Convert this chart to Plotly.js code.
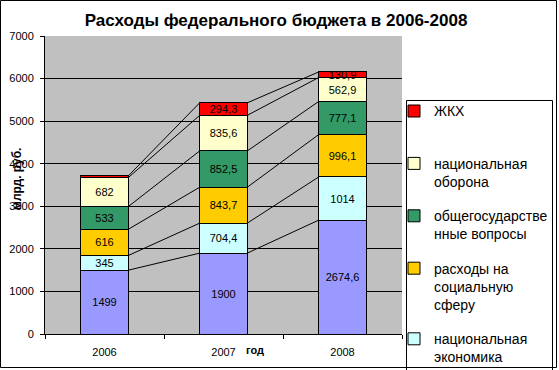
<!DOCTYPE html>
<html><head><meta charset="utf-8">
<script src="https://cdn.plot.ly/plotly-3.0.1.min.js"></script>
<style>html,body{margin:0;padding:0;background:#fff}#chart{width:559px;height:370px}</style>
</head><body><div id="chart"></div>
<script>
// ---- data ----
const years = ['2006', '2007', '2008'];
const seriesNames = ['прочие расходы', 'национальная экономика', 'расходы на социальную сферу',
  'общегосударственные вопросы', 'национальная оборона', 'ЖКХ'];
const legendLabels = ['прочие расходы', 'национальная<br>экономика', 'расходы на<br>социальную<br>сферу',
  'общегосударстве<br>нные вопросы', 'национальная<br>оборона', 'ЖКХ<br>\u00a0'];
const other   = [1499, 1900, 2674.6];
const economy = [345, 704.4, 1014];
const social  = [616, 843.7, 996.1];
const general = [533, 852.5, 777.1];
const defense = [682, 835.6, 562.9];
const housing = [40, 294.3, 130.9];
const seriesValues = [other, economy, social, general, defense, housing];

// ---- styles ----
const colors = ['#9999FF', '#CCFFFF', '#FFCC00', '#339966', '#FFFFCC', '#FF0000'];
const FONT = 'Arial, "Liberation Sans", sans-serif';
const barW = 0.4;
const L = 45, R = 402, T = 36, B = 334; // plot area in px
const px2x = p => (p - L) / (R - L);
const px2y = p => (B - p) / (B - T);

const xPos = years.map((_, i) => i);
const fmt = v => (v < 100 ? '' : String(v).replace('.', ','));

const traces = seriesValues.map((vals, k) => ({
  type: 'bar',
  x: xPos,
  y: vals,
  width: barW,
  name: legendLabels[k],
  legendgroup: 'g' + k,
  legendrank: 100 - k,
  showlegend: k !== 0,
  marker: { color: colors[k], line: { color: '#000', width: 1 } },
  text: vals.map(fmt),
  textposition: 'inside',
  insidetextanchor: 'middle',
  constraintext: 'none',
  textangle: 0,
  textfont: { family: FONT, size: 11, color: '#000' },
  hoverinfo: 'skip'
}));

// series lines connecting segment tops
const cum = [];
seriesValues.forEach((vals, k) => {
  cum.push(vals.map((v, i) => v + (k ? cum[k - 1][i] : 0)));
});
const lx = [], ly = [];
cum.forEach(c => {
  for (let i = 0; i < xPos.length - 1; i++) {
    lx.push(xPos[i] + barW / 2, xPos[i + 1] - barW / 2, null);
    ly.push(c[i], c[i + 1], null);
  }
});
traces.push({
  type: 'scatter', mode: 'lines', x: lx, y: ly,
  line: { color: '#000', width: 1 }, showlegend: false, hoverinfo: 'skip'
});

const layout = {
  width: 559, height: 370,
  margin: { l: L, r: 559 - R, t: T, b: 370 - B, autoexpand: false },
  paper_bgcolor: '#fff', plot_bgcolor: '#C0C0C0',
  barmode: 'stack',
  font: { family: FONT, size: 11, color: '#000' },
  title: {
    text: '<b>Расходы федерального бюджета в 2006-2008</b>',
    font: { family: FONT, size: 17, color: '#000' },
    xref: 'container', x: 276 / 559, xanchor: 'center',
    yref: 'container', y: 1 - 20 / 370, yanchor: 'middle'
  },
  xaxis: {
    range: [-0.5, 2.5], tickvals: xPos, ticktext: years, ticks: '',
    showgrid: false, zeroline: false, showline: true, linecolor: '#000', linewidth: 1,
    minor: { tickvals: [-0.5, 0.5, 1.5, 2.5], ticks: 'outside', ticklen: 4, tickcolor: '#000', showgrid: false },
    ticklabelstandoff: 8, tickfont: { size: 11 }
  },
  yaxis: {
    range: [0, 7000], tick0: 0, dtick: 1000, ticks: 'outside', ticklen: 4, tickcolor: '#000',
    showgrid: true, gridcolor: '#000', gridwidth: 1, zeroline: false,
    showline: true, linecolor: '#000', linewidth: 1, ticklabelstandoff: 4, tickfont: { size: 11 }
  },
  legend: {
    x: px2x(394), xanchor: 'left', y: px2y(95.4), yanchor: 'top',
    bgcolor: 'rgba(0,0,0,0)', borderwidth: 0,
    font: { family: FONT, size: 14, color: '#000' },
    traceorder: 'grouped', tracegroupgap: 13, valign: 'top'
  },
  shapes: [
    { type: 'rect', xref: 'paper', yref: 'paper', layer: 'above',
      x0: px2x(406.5), x1: px2x(552.5), y0: px2y(385), y1: px2y(100.5),
      line: { color: '#000', width: 1 }, fillcolor: '#fff' },
    { type: 'rect', xref: 'paper', yref: 'paper', layer: 'above',
      x0: px2x(0.5), x1: px2x(556.5), y0: px2y(367.5), y1: px2y(0.5),
      line: { color: '#000', width: 1 }, fillcolor: 'rgba(0,0,0,0)' }
  ],
  annotations: [
    { text: '<b>млрд. руб.</b>', textangle: -90, xref: 'paper', yref: 'paper',
      x: px2x(17), y: px2y(179), xanchor: 'center', yanchor: 'middle', showarrow: false,
      font: { family: FONT, size: 12, color: '#000' } },
    { text: '<b>год</b>', xref: 'paper', yref: 'paper',
      x: px2x(255), y: px2y(350), xanchor: 'center', yanchor: 'middle', showarrow: false,
      font: { family: FONT, size: 11, color: '#000' } }
  ]
};

Plotly.newPlot('chart', traces, layout, { displayModeBar: false, staticPlot: true });
</script></body></html>
